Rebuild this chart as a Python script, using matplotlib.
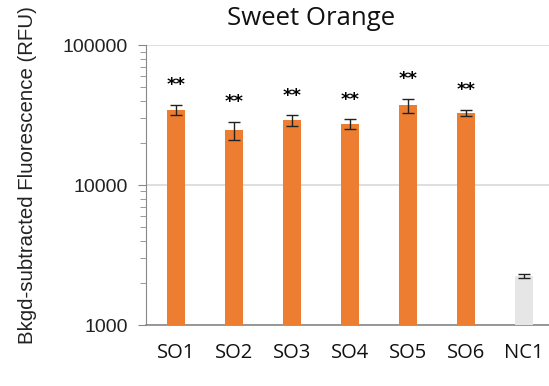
import matplotlib
matplotlib.use("Agg")
import matplotlib.pyplot as plt
import numpy as np

# Data
samples = ["SO1", "SO2", "SO3", "SO4", "SO5", "SO6", "NC1"]
fluorescence = [34500, 24700, 29000, 27400, 37100, 32800, 2240]
errors = [3000, 3600, 2700, 2200, 4400, 1800, 70]
significance = ["**", "**", "**", "**", "**", "**", ""]

orange = "#ed7d31"
gray_bar = "#e7e6e6"
colors = [orange] * 6 + [gray_bar]

fig = plt.figure(figsize=(5.49, 3.86), dpi=100)
ax = fig.add_axes([0.266, 0.158, 0.734, 0.725])

x = np.arange(len(samples))
ax.bar(x, fluorescence, width=0.31, color=colors, zorder=3)
ax.errorbar(x, fluorescence, yerr=errors, fmt="none", ecolor="#222222",
            elinewidth=1, capsize=4, capthick=1, zorder=4)

for xi, val, err, s in zip(x, fluorescence, errors, significance):
    if s:
        ax.annotate(s, (xi, val + err), xytext=(0, 14), textcoords="offset points",
                    ha="center", va="center", fontsize=13, fontweight="bold",
                    family="DejaVu Sans")

ax.set_yscale("log")
ax.set_ylim(1000, 100000)
ax.set_xlim(-0.52, 6.43)
ax.set_yticks([1000, 10000, 100000])
ax.set_yticklabels(["1000", "10000", "100000"], family="Liberation Sans",
                   fontsize=14, color="#222222")
ax.set_xticks(x)
ax.set_xticklabels(samples, family="Open Sans", fontsize=14.5, color="#111111")
ax.tick_params(axis="x", length=0, pad=13)
ax.tick_params(axis="y", which="major", length=6, color="#888888", pad=7)
ax.tick_params(axis="y", which="minor", length=4, color="#888888")

ax.grid(axis="y", which="major", color="#d9d9d9", linewidth=1.2, zorder=0)
for side in ["top", "right"]:
    ax.spines[side].set_visible(False)
ax.spines["left"].set_color("#888888")
ax.spines["bottom"].set_color("#888888")
ax.spines["bottom"].set_linewidth(1.2)

ax.set_ylabel("Bkgd-subtracted Fluorescence (RFU)", family="Liberation Sans",
              fontsize=14.7, color="#222222", va="center")
ax.yaxis.set_label_coords(-0.295, 0.535)
fig.text(0.567, 0.953, "Sweet Orange", ha="center", va="center",
         family="Open Sans", fontsize=18.5, color="#111111")

fig.savefig("out.png", dpi=100)
